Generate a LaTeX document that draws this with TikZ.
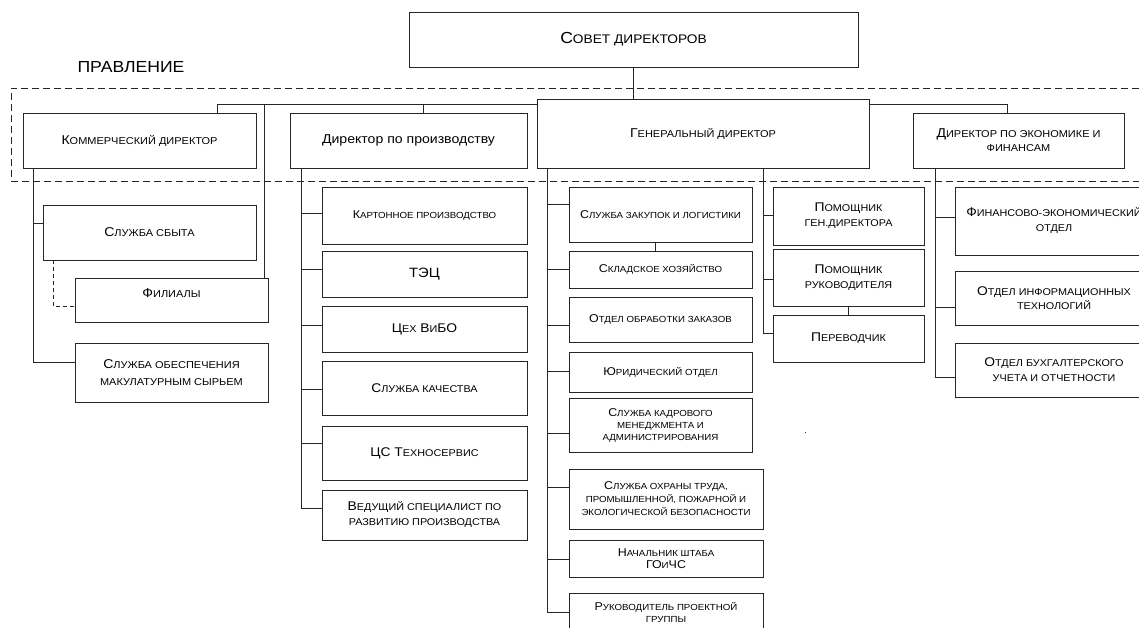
\documentclass[tikz,border=0pt]{standalone}
\usepackage{fontspec}
\setmainfont{Liberation Sans}[FakeStretch=1.1]
\makeatletter
% small capitals built from reduced upper-case letters
\newcommand\SC[1]{{\fontsize{\fpeval{0.78*\f@size}}{\f@baselineskip}\selectfont #1}}
\makeatother
% box from its corners: [options]{name}{x1}{y1}{x2}{y2}{text}
\newcommand\bx[7][]{%
  \pgfmathsetmacro\bw{#5-#3}\pgfmathsetmacro\bh{#6-#4}%
  \node[box,#1,minimum width=\bw pt,minimum height=\bh pt] (#2) at ({(#3+#5)/2},{(#4+#6)/2}) {#7};}
\tikzset{
  box/.style={draw=black!85, line width=0.75pt, fill=white, inner sep=1pt, outer sep=0pt, align=center},
  conn/.style={draw=black!85, line width=0.75pt},
  group/.style={draw=black!85, line width=0.75pt, dash pattern=on 7pt off 4pt},
  fT/.style={font=\fontsize{16}{19}\selectfont},
  fA/.style={font=\fontsize{12.8}{15}\selectfont},
  fB/.style={font=\fontsize{11.3}{13}\selectfont},
  fC/.style={font=\fontsize{12.6}{15}\selectfont},
  fD/.style={font=\fontsize{13.5}{16}\selectfont},
}
\begin{document}
\begin{tikzpicture}[x=1pt,y=-1pt]
\useasboundingbox (0,0) rectangle (1139,627);
\fill[white] (0,0) rectangle (1139,627);
\clip (0,0) rectangle (1139,627);

% board of management frame
\draw[group] (1150,88) -- (11,88) -- (11,181) -- (1150,181);
\node[fT, inner sep=0pt] (pravl) at (131,67) {ПРАВЛЕНИЕ};

% top level
\bx[fT]{sovet}{409}{12}{858}{67}{С\SC{ОВЕТ ДИРЕКТОРОВ}}

% directors
\bx[fA]{kom}{23}{113}{256}{168}{К\SC{ОММЕРЧЕСКИЙ ДИРЕКТОР}}
\bx[fA]{dpp}{290}{113}{527}{168}{Директор по производству}
\bx[fA]{gen}{537}{99}{869}{168}{Г\SC{ЕНЕРАЛЬНЫЙ ДИРЕКТОР}}
\bx[fA,font=\fontsize{12.8}{14}\selectfont]{dek}{913}{113}{1124}{168}{Д\SC{ИРЕКТОР ПО ЭКОНОМИКЕ И}\\\SC{ФИНАНСАМ}}

% commercial branch
\bx[fA]{sbyt}{43}{205}{256}{260}{С\SC{ЛУЖБА СБЫТА}}
\bx[fA]{fil}{75}{278}{268}{322}{\raisebox{7pt}[\height][\depth]{Ф\SC{ИЛИАЛЫ}}}
\bx[fA,font=\fontsize{12.8}{17}\selectfont]{obesp}{75}{343}{268}{402}{С\SC{ЛУЖБА ОБЕСПЕЧЕНИЯ}\\\SC{МАКУЛАТУРНЫМ СЫРЬЕМ}}

% production branch
\bx[fB]{kart}{322}{187}{527}{244}{К\SC{АРТОННОЕ ПРОИЗВОДСТВО}}
\bx[fD]{tec}{322}{251}{527}{297}{ТЭЦ}
\bx[fC]{ceh}{322}{306}{527}{352}{Ц\SC{ЕХ} В\SC{И}БО}
\bx[fC]{kach}{322}{361}{527}{415}{С\SC{ЛУЖБА КАЧЕСТВА}}
\bx[fC]{tehno}{322}{426}{527}{480}{ЦС Т\SC{ЕХНОСЕРВИС}}
\bx[fC]{ved}{322}{490}{527}{540}{В\SC{ЕДУЩИЙ СПЕЦИАЛИСТ ПО}\\\SC{РАЗВИТИЮ ПРОИЗВОДСТВА}}

% general director's services
\bx[fB]{zak}{569}{187}{752}{242}{С\SC{ЛУЖБА ЗАКУПОК И ЛОГИСТИКИ}}
\bx[fB]{sklad}{569}{251}{752}{288}{С\SC{КЛАДСКОЕ ХОЗЯЙСТВО}}
\bx[fB]{obr}{569}{297}{752}{342}{О\SC{ТДЕЛ ОБРАБОТКИ ЗАКАЗОВ}}
\bx[fB]{yur}{569}{352}{752}{392}{Ю\SC{РИДИЧЕСКИЙ ОТДЕЛ}}
\bx[fB,font=\fontsize{11.3}{12}\selectfont]{kadr}{569}{398}{752}{452}{С\SC{ЛУЖБА КАДРОВОГО}\\\SC{МЕНЕДЖМЕНТА И}\\\SC{АДМИНИСТРИРОВАНИЯ}}
\bx[fB]{ohr}{569}{469}{763}{529}{С\SC{ЛУЖБА ОХРАНЫ ТРУДА,}\\\SC{ПРОМЫШЛЕННОЙ, ПОЖАРНОЙ И}\\\SC{ЭКОЛОГИЧЕСКОЙ БЕЗОПАСНОСТИ}}
\bx[fB,font=\fontsize{11.3}{12}\selectfont]{shtab}{569}{540}{763}{577}{Н\SC{АЧАЛЬНИК ШТАБА}\\ГО\SC{И}ЧС}
\bx[fB,font=\fontsize{11.3}{12}\selectfont]{ruk}{569}{593}{763}{633}{Р\SC{УКОВОДИТЕЛЬ ПРОЕКТНОЙ}\\\SC{ГРУППЫ}}

% assistants
\bx[fC]{pom1}{773}{187}{924}{245}{П\SC{ОМОЩНИК}\\\SC{ГЕН.ДИРЕКТОРА}}
\bx[fC]{pom2}{773}{249}{924}{306}{П\SC{ОМОЩНИК}\\\SC{РУКОВОДИТЕЛЯ}}
\bx[fC]{perev}{773}{315}{924}{362}{П\SC{ЕРЕВОДЧИК}}

% economics and finance
\bx[fC]{fin}{955}{187}{1153}{255}{Ф\SC{ИНАНСОВО-ЭКОНОМИЧЕСКИЙ}\\\SC{ОТДЕЛ}}
\bx[fC,font=\fontsize{12.6}{14}\selectfont]{inf}{955}{271}{1153}{325}{О\SC{ТДЕЛ ИНФОРМАЦИОННЫХ}\\\SC{ТЕХНОЛОГИЙ}}
\bx[fC]{buh}{955}{343}{1153}{397}{О\SC{ТДЕЛ БУХГАЛТЕРСКОГО}\\\SC{УЧЕТА И ОТЧЕТНОСТИ}}

% junction points of the upper bus
\coordinate (busL) at (217,104);
\coordinate (busF) at (264,104);
\coordinate (busP) at (423,104);
\coordinate (busE) at (1007,104);

% board -> general director
\draw[conn] (sovet.south) -- (sovet.south |- gen.north);
% upper bus
\draw[conn] (busL |- kom.north) -- (busL) -- (gen.west |- busL);
\draw[conn] (busP) -- (busP |- dpp.north);
\draw[conn] (busF) -- (busF |- fil.north);
\draw[conn] (gen.east |- busE) -- (busE) -- (busE |- dek.north);

% commercial director
\draw[conn] (kom.south -| 33,0) -- (33,362) -- (obesp.west |- 0,362);
\draw[conn] (33,223) -- (sbyt.west |- 0,223);
\draw[conn, dash pattern=on 4pt off 3pt] (sbyt.south -| 53,0) |- (fil.west |- 0,306);

% production director
\draw[conn] (dpp.south -| 301,0) -- (301,508) -- (ved.west |- 0,508);
\draw[conn] (301,213) -- (kart.west |- 0,213);
\draw[conn] (301,269) -- (tec.west |- 0,269);
\draw[conn] (301,325) -- (ceh.west |- 0,325);
\draw[conn] (301,389) -- (kach.west |- 0,389);
\draw[conn] (301,443) -- (tehno.west |- 0,443);

% general director, services
\draw[conn] (gen.south -| 547,0) -- (547,612) -- (ruk.west |- 0,612);
\draw[conn] (547,204) -- (zak.west |- 0,204);
\draw[conn] (547,269) -- (sklad.west |- 0,269);
\draw[conn] (547,325) -- (obr.west |- 0,325);
\draw[conn] (547,371) -- (yur.west |- 0,371);
\draw[conn] (547,433) -- (kadr.west |- 0,433);
\draw[conn] (547,487) -- (ohr.west |- 0,487);
\draw[conn] (547,559) -- (shtab.west |- 0,559);
\draw[conn] (zak.south -| 655,0) -- (sklad.north -| 655,0);

% general director, assistants
\draw[conn] (gen.south -| 763,0) -- (763,333) -- (perev.west |- 0,333);
\draw[conn] (763,215) -- (pom1.west |- 0,215);
\draw[conn] (763,279) -- (pom2.west |- 0,279);
\draw[conn] (pom2.south -| 848,0) -- (perev.north -| 848,0);

% economics and finance director
\draw[conn] (dek.south -| 935,0) -- (935,377) -- (buh.west |- 0,377);
\draw[conn] (935,217) -- (fin.west |- 0,217);
\draw[conn] (935,307) -- (inf.west |- 0,307);

% stray mark
\fill[black!80] (804.5,431.5) rectangle (806,433);
\end{tikzpicture}
\end{document}
